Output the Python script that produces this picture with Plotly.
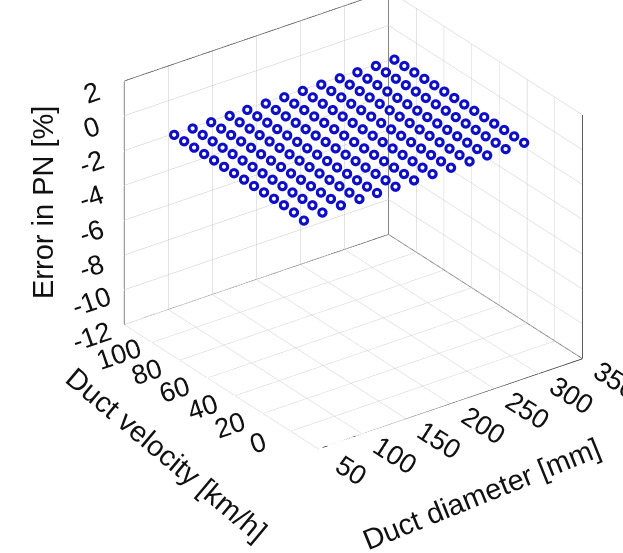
import numpy as np
import plotly.graph_objects as go

# Operating grid: duct diameter [mm] x duct velocity [km/h]
DIAMETER_MM = [65, 86, 107, 128, 148, 169, 190, 211, 232, 253, 273, 294, 315]
VELOCITY_KMH = [0, 7.2, 14.4, 21.6, 28.8, 36.0, 43.2, 50.4, 57.6, 64.8, 72.0, 79.2, 86.4, 93.6]

# Error in PN [%]: one row per velocity, one column per diameter
ERROR_PN = [
    [-0.15, -0.05, 0.0, 0.0, 0.0, 0.0, 0.0, 0.0, 0.0, 0.0, 0.0, 0.0, 0.0],
    [-0.05, 0.0, 0.0, 0.0, 0.0, 0.0, 0.0, 0.0, 0.0, 0.0, 0.0, 0.0, 0.0],
    [0.0, 0.0, 0.0, 0.0, 0.0, 0.0, 0.0, 0.0, 0.0, 0.0, 0.0, 0.0, 0.0],
    [0.0, 0.0, 0.0, 0.0, 0.0, 0.0, 0.0, 0.0, 0.0, 0.0, 0.0, 0.0, 0.0],
    [0.0, 0.0, 0.0, 0.0, 0.0, 0.0, 0.0, 0.0, 0.0, 0.0, 0.0, 0.0, 0.0],
    [0.0, 0.0, 0.0, 0.0, 0.0, 0.0, 0.0, 0.0, 0.0, 0.0, 0.0, 0.0, 0.0],
    [0.0, 0.0, 0.0, 0.0, 0.0, 0.0, 0.0, 0.0, 0.0, 0.0, 0.0, 0.0, 0.0],
    [0.0, 0.0, 0.0, 0.0, 0.0, 0.0, 0.0, 0.0, 0.0, 0.0, 0.0, 0.0, 0.0],
    [0.0, 0.0, 0.0, 0.0, 0.0, 0.0, 0.0, 0.0, 0.0, 0.0, 0.0, 0.0, 0.0],
    [0.0, 0.0, 0.0, 0.0, 0.0, 0.0, 0.0, 0.0, 0.0, 0.0, 0.0, 0.0, 0.0],
    [0.0, 0.0, 0.0, 0.0, 0.0, 0.0, 0.0, 0.0, 0.0, 0.0, 0.0, 0.0, 0.0],
    [0.0, 0.0, 0.0, 0.0, 0.0, 0.0, 0.0, 0.0, 0.0, 0.0, 0.0, 0.0, 0.0],
    [0.0, 0.0, 0.0, 0.0, 0.0, 0.0, 0.0, 0.0, 0.0, 0.0, 0.0, 0.0, 0.0],
    [0.0, 0.0, 0.0, 0.0, 0.0, 0.0, 0.0, 0.0, 0.0, 0.0, 0.0, 0.0, 0.0],
]

# Axis limits and ticks
X_RANGE = [50, 350]
X_TICKS = [50, 100, 150, 200, 250, 300, 350]
Y_RANGE = [-20, 120]
Y_TICKS = [0, 20, 40, 60, 80, 100]
Z_RANGE = [-12, 2]
Z_TICKS = [-12, -10, -8, -6, -4, -2, 0, 2]

X_TITLE = "Duct diameter [mm]"
Y_TITLE = "Duct velocity [km/h]"
Z_TITLE = "Error in PN [%]"

W, H = 623, 553
FONT = "Liberation Sans, Arial, sans-serif"
TICK_SIZE = 18
TITLE_SIZE = 29
MARKER_BLUE = "rgb(14,14,200)"
EDGE = "#262626"
GRID = "#c8c8c8"
TEXT = "#111111"

dd, vv = np.meshgrid(DIAMETER_MM, VELOCITY_KMH)
ee = np.array(ERROR_PN)

# Open circles: a blue disc with a white centre at each grid point
ring = go.Scatter3d(
    x=dd.ravel(), y=vv.ravel(), z=ee.ravel(),
    mode="markers",
    marker=dict(symbol="circle", size=6, color=MARKER_BLUE, line=dict(width=0)),
    hoverinfo="skip", showlegend=False,
)
hole = go.Scatter3d(
    x=dd.ravel(), y=vv.ravel(), z=ee.ravel(),
    mode="markers",
    marker=dict(symbol="circle", size=2.4, color="white", line=dict(width=0)),
    hoverinfo="skip", showlegend=False,
)

# Back edges of the axes box (the three rear faces)
x0, x1 = X_RANGE
y0, y1 = Y_RANGE
z0, z1 = Z_RANGE
segments = [
    ((x0, y0, z0), (x1, y0, z0)),
    ((x1, y0, z0), (x1, y1, z0)),
    ((x1, y1, z0), (x0, y1, z0)),
    ((x0, y1, z0), (x0, y0, z0)),
    ((x1, y0, z0), (x1, y0, z1)),
    ((x1, y1, z0), (x1, y1, z1)),
    ((x0, y1, z0), (x0, y1, z1)),
    ((x1, y0, z1), (x1, y1, z1)),
    ((x0, y1, z1), (x1, y1, z1)),
]
ex, ey, ez = [], [], []
for a, b in segments:
    ex += [a[0], b[0], None]
    ey += [a[1], b[1], None]
    ez += [a[2], b[2], None]
edges = go.Scatter3d(x=ex, y=ey, z=ez, mode="lines",
                     line=dict(color=EDGE, width=1.5),
                     hoverinfo="skip", showlegend=False)

fig = go.Figure([edges, ring, hole])


def axis(rng, ticks, pad):
    return dict(
        range=rng, tickvals=ticks, ticktext=[str(t) for t in ticks],
        autorange=False, title=dict(text=""),
        showgrid=True, gridcolor=GRID, gridwidth=1,
        zeroline=False, showline=False, showbackground=False,
        showspikes=False,
        # invisible outside ticks keep the labels clear of the box edge
        ticks="outside", ticklen=pad, tickcolor="rgba(255,255,255,0)",
        tickfont=dict(family=FONT, size=TICK_SIZE, color=TEXT),
    )


# Orthographic camera
view_dir = np.array([-0.5212, -0.7139, 0.4679])
right = np.array([0.8077, -0.5897, 0.0])
up_s = np.array([0.2759, 0.3779, 0.8838])
px_per_unit = 275.7
box_px = np.array([326.25, 328.16, 274.94])
aspect = box_px / px_per_unit
shift = np.array([353.3 - W / 2, 220.0 - H / 2])
center = -(shift[0] / px_per_unit) * right + (shift[1] / px_per_unit) * up_s
eye = center + 2.0 * view_dir


def title(text, cx, cy, angle):
    return dict(text=text, x=cx / W, y=1 - cy / H, xref="paper", yref="paper",
                xanchor="center", yanchor="middle", showarrow=False,
                textangle=angle,
                font=dict(family=FONT, size=TITLE_SIZE, color=TEXT))


fig.update_layout(
    width=W, height=H,
    margin=dict(l=0, r=0, t=0, b=0),
    paper_bgcolor="white",
    font=dict(family=FONT, color=TEXT),
    scene=dict(
        domain=dict(x=[0, 1], y=[0, 1]),
        xaxis=axis(X_RANGE, X_TICKS, 23),
        yaxis=axis(Y_RANGE, Y_TICKS, 38),
        zaxis=axis(Z_RANGE, Z_TICKS, 8),
        aspectmode="manual",
        aspectratio=dict(x=aspect[0], y=aspect[1], z=aspect[2]),
        bgcolor="white",
        camera=dict(
            projection=dict(type="orthographic"),
            eye=dict(x=eye[0], y=eye[1], z=eye[2]),
            center=dict(x=center[0], y=center[1], z=center[2]),
            up=dict(x=0, y=0, z=1),
        ),
    ),
    annotations=[
        title(Z_TITLE, 43, 203, -90),
        title(Y_TITLE, 166, 454, 40),
        title(X_TITLE, 481, 494, -22),
    ],
    hovermode=False,
)

fig.write_html("out.html", config={"displayModeBar": False})
